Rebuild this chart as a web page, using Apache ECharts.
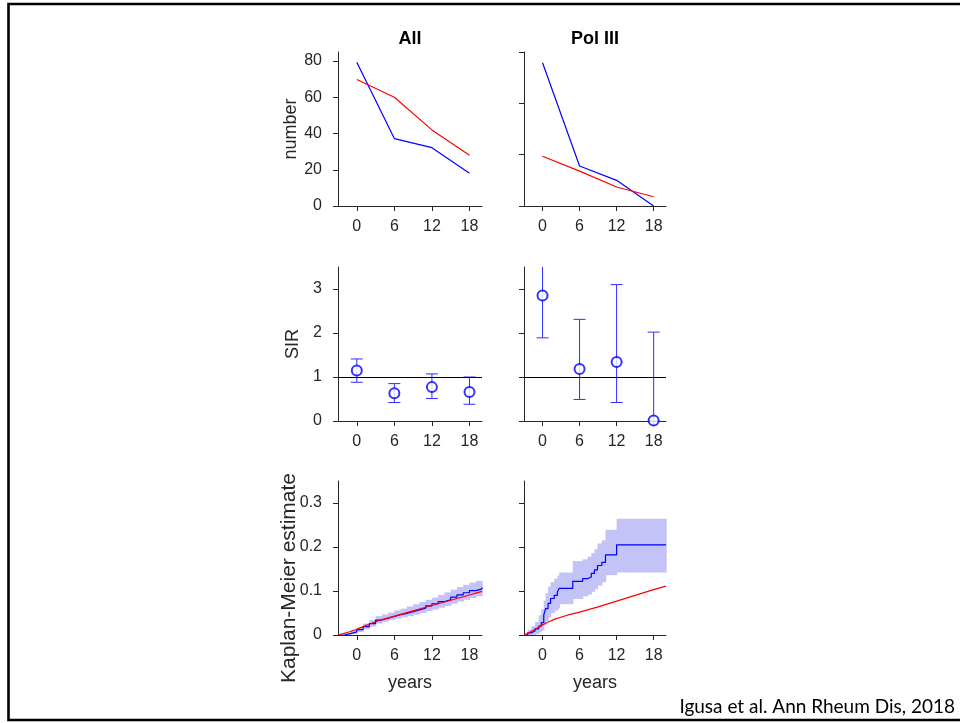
<!DOCTYPE html>
<html>
<head>
<meta charset="utf-8">
<script src="https://cdn.jsdelivr.net/npm/echarts@6/dist/echarts.min.js"></script>
<style>
  html, body { margin: 0; padding: 0; background: #fff; }
  #main { width: 960px; height: 723px; }
</style>
</head>
<body>
<div id="main"></div>
<script>
// x axis ticks (years)
var yearTicks = [0, 6, 12, 18];
var numberYears = [0, 6, 12, 18];

// number panels
var allObserved = [79.3, 37.2, 32.2, 18.1];
var allExpected = [69.8, 60, 42, 28];
var polObserved = [27.9, 7.8, 5.0, 0];
var polExpected = [9.7, 6.8, 3.7, 1.8];

// SIR panels
var sirAll = [1.15, 0.63, 0.77, 0.66];
var sirAllLow = [0.88, 0.42, 0.51, 0.38];
var sirAllHigh = [1.41, 0.85, 1.07, 1.0];
var sirPol = [2.85, 1.18, 1.34, 0.01];
var sirPolLow = [1.89, 0.49, 0.42, 0];
var sirPolHigh = [3.9, 2.31, 3.1, 2.02];

// Kaplan-Meier, All
var kmAllTime = [-3, -2, -1, 0, 1, 2, 3, 4, 5, 6, 7, 8, 9, 10, 11, 12, 13, 14, 15, 16, 17, 18, 19, 20];
var kmAllEst = [0, .003, .007, .012, .019, .026, .034, .038, .042, .046, .049, .053, .057, .061, .066, .071, .076, .080, .086, .091, .096, .101, .105, .108];
var kmAllUpper = [0, .005, .011, .017, .026, .034, .043, .047, .051, .056, .060, .065, .070, .075, .080, .085, .091, .097, .103, .109, .114, .119, .123, .127];
var kmAllLower = [0, .001, .003, .007, .013, .019, .026, .030, .034, .037, .040, .043, .046, .050, .054, .058, .062, .066, .071, .076, .080, .084, .088, .091];
var kmAllExpected = [0, .004, .008, .013, .019, .025, .030, .035, .039, .043, .047, .051, .055, .059, .063, .067, .071, .075, .079, .083, .087, .091, .095, .099];

// Kaplan-Meier, Pol III
var kmPolTime = [-3, -2.4, -1.8, -1.2, -0.6, -0.2, 0.2, 0.5, 0.9, 1.3, 1.9, 2.4, 2.7, 4.9, 6.5, 7.3, 7.9, 8.4, 8.9, 9.6, 10.2, 12.0, 20];
var kmPolEst = [0, .005, .009, .014, .02, .028, .045, .06, .072, .083, .09, .097, .106, .122, .128, .132, .14, .148, .158, .165, .182, .205, .205];
var kmPolUpper = [0, .012, .02, .03, .045, .058, .078, .095, .11, .12, .128, .135, .142, .168, .172, .178, .186, .195, .208, .215, .239, .264, .264];
var kmPolLower = [0, 0, 0, .002, .006, .01, .022, .032, .04, .05, .055, .06, .07, .082, .088, .092, .098, .104, .112, .12, .136, .142, .142];
var kmExpTime = [-3, -2, -1, 0, 1, 2, 4, 6, 9, 12, 15, 18, 20];
var kmPolExpected = [0, .007, .015, .023, .03, .036, .045, .052, .064, .077, .09, .103, .111];

var BLUE = '#0000ff';
var RED = '#ff0000';
var AXIS = '#262626';
var FONT = "'Liberation Sans', Arial, sans-serif";

function pairs(xs, ys) {
  return xs.map(function (x, i) { return [x, ys[i]]; });
}

var lefts = [338, 524];
var widths = [144, 142];
var tops = [52, 267, 481];

var grids = [];
for (var r = 0; r < 3; r++) {
  for (var c = 0; c < 2; c++) {
    grids.push({ left: lefts[c], top: tops[r], width: widths[c], height: 154 });
  }
}

function makeX(i, withName) {
  return {
    type: 'value', gridIndex: i, min: -3, max: 20,
    splitLine: { show: false },
    axisLine: { onZero: false, lineStyle: { color: AXIS, width: 1 } },
    axisTick: { length: 5, customValues: yearTicks, lineStyle: { color: AXIS } },
    axisLabel: { customValues: yearTicks, color: AXIS, fontSize: 16, fontFamily: FONT, margin: 13 },
    name: withName ? 'years' : '',
    nameLocation: 'middle', nameGap: 39,
    nameTextStyle: { color: AXIS, fontSize: 18, fontFamily: FONT }
  };
}

function makeY(i, max, ticks, showLabels, name) {
  return {
    type: 'value', gridIndex: i, min: 0, max: max,
    splitLine: { show: false },
    axisLine: { show: true, onZero: false, lineStyle: { color: AXIS, width: 1 } },
    axisTick: { show: true, length: 5, customValues: ticks, lineStyle: { color: AXIS } },
    axisLabel: { show: showLabels, customValues: ticks, color: AXIS, fontSize: 16, fontFamily: FONT, margin: 16 },
    name: name || '',
    nameLocation: 'middle', nameGap: 36,
    nameTextStyle: { color: AXIS, fontSize: 18, fontFamily: FONT }
  };
}

function errorBars(ymax) {
  return function (params, api) {
    var x = api.value(0);
    var lo = api.value(1);
    var hi = api.value(2);
    var pLo = api.coord([x, lo]);
    var pHi = api.coord([x, Math.min(hi, ymax)]);
    var half = 6;
    var st = { stroke: '#2f2fff', lineWidth: 1 };
    var kids = [
      { type: 'line', shape: { x1: pLo[0], y1: pLo[1], x2: pHi[0], y2: pHi[1] }, style: st },
      { type: 'line', shape: { x1: pLo[0] - half, y1: pLo[1], x2: pLo[0] + half, y2: pLo[1] }, style: st }
    ];
    if (hi <= ymax) {
      kids.push({ type: 'line', shape: { x1: pHi[0] - half, y1: pHi[1], x2: pHi[0] + half, y2: pHi[1] }, style: st });
    }
    return { type: 'group', children: kids };
  };
}

// confidence band drawn as one step rectangle per interval
function bandRect(params, api) {
  var a = api.coord([api.value(0), api.value(3)]);
  var b = api.coord([api.value(1), api.value(2)]);
  return {
    type: 'rect',
    shape: { x: a[0], y: a[1], width: b[0] - a[0] + 0.7, height: b[1] - a[1] },
    style: { fill: '#c3c3f7' }
  };
}

function bandSeries(i, t, lo, hi) {
  var items = [];
  for (var k = 0; k < t.length - 1; k++) {
    items.push([t[k], t[k + 1], lo[k], hi[k]]);
  }
  return {
    type: 'custom', xAxisIndex: i, yAxisIndex: i, silent: true,
    renderItem: bandRect, data: items
  };
}

function lineSeries(i, data, color, step) {
  return {
    type: 'line', xAxisIndex: i, yAxisIndex: i, data: data,
    step: step || false, symbol: 'none', silent: true,
    lineStyle: { color: color, width: 1.2 }
  };
}

function sirSeries(i, vals, lo, hi, ymax) {
  return [
    {
      type: 'custom', xAxisIndex: i, yAxisIndex: i, silent: true,
      renderItem: errorBars(ymax),
      data: numberYears.map(function (x, k) { return [x, lo[k], hi[k]]; })
    },
    {
      type: 'scatter', xAxisIndex: i, yAxisIndex: i, silent: true,
      symbol: 'emptyCircle', symbolSize: 10,
      itemStyle: { color: BLUE, borderColor: BLUE, borderWidth: 1.2 },
      data: pairs(numberYears, vals),
      markLine: {
        silent: true, symbol: 'none', label: { show: false },
        lineStyle: { color: '#000', width: 1.2, type: 'solid' },
        data: [{ yAxis: 1 }]
      }
    }
  ];
}

var series = [
  lineSeries(0, pairs(numberYears, allObserved), BLUE),
  lineSeries(0, pairs(numberYears, allExpected), RED),
  lineSeries(1, pairs(numberYears, polObserved), BLUE),
  lineSeries(1, pairs(numberYears, polExpected), RED)
]
  .concat(sirSeries(2, sirAll, sirAllLow, sirAllHigh, 3.5))
  .concat(sirSeries(3, sirPol, sirPolLow, sirPolHigh, 3.5))
  .concat([
    bandSeries(4, kmAllTime, kmAllLower, kmAllUpper),
    lineSeries(4, pairs(kmAllTime, kmAllEst), BLUE, 'end'),
    lineSeries(4, pairs(kmAllTime, kmAllExpected), RED),
    bandSeries(5, kmPolTime, kmPolLower, kmPolUpper),
    lineSeries(5, pairs(kmPolTime, kmPolEst), BLUE, 'end'),
    lineSeries(5, pairs(kmExpTime, kmPolExpected), RED)
  ]);

var chart = echarts.init(document.getElementById('main'));
var option = {
  animation: false,
  backgroundColor: '#fff',
  title: [
    { text: 'All', left: 410, top: 30, textAlign: 'center', padding: 0,
      textStyle: { fontSize: 18, fontWeight: 'bold', color: '#000', fontFamily: FONT } },
    { text: 'Pol III', left: 595, top: 30, textAlign: 'center', padding: 0,
      textStyle: { fontSize: 18, fontWeight: 'bold', color: '#000', fontFamily: FONT } }
  ],
  grid: grids,
  xAxis: [makeX(0), makeX(1), makeX(2), makeX(3), makeX(4, true), makeX(5, true)],
  yAxis: [
    makeY(0, 85, [0, 20, 40, 60, 80], true, 'number'),
    makeY(1, 30, [0, 10, 20, 30], false),
    makeY(2, 3.5, [0, 1, 2, 3], true, 'SIR'),
    makeY(3, 3.5, [0, 1, 2, 3], false),
    makeY(4, 0.35, [0, 0.1, 0.2, 0.3], true),
    makeY(5, 0.35, [0, 0.1, 0.2, 0.3], false)
  ],
  series: series,
  graphic: [
    { type: 'rect', silent: true, z: -1,
      shape: { x: 8.5, y: 4, width: 1000, height: 716 },
      style: { fill: 'none', stroke: '#000', lineWidth: 2.6 } },
    { type: 'text', silent: true, x: 289, y: 578, rotation: Math.PI / 2,
      style: { text: 'Kaplan-Meier estimate', align: 'center', verticalAlign: 'middle',
        fill: AXIS, font: "21px 'Liberation Sans', Arial, sans-serif" } },
    { type: 'text', silent: true, x: 955, y: 707,
      style: { text: 'Igusa et al. Ann Rheum Dis, 2018', align: 'right', verticalAlign: 'middle',
        fill: '#000', font: '19px Lato, sans-serif' } }
  ]
};

chart.setOption(option);
</script>
</body>
</html>
